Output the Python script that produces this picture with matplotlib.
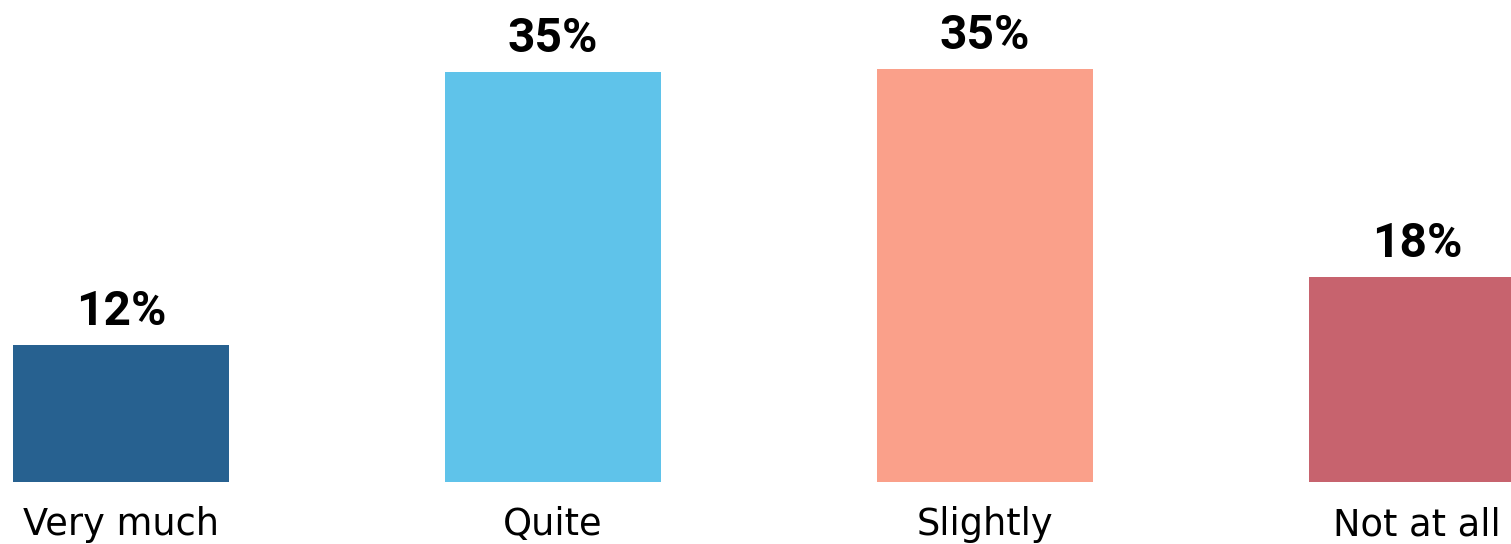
import matplotlib
matplotlib.use("Agg")
import matplotlib.pyplot as plt

categories = ["Very much", "Quite", "Slightly", "Not at all"]
values = [11.7, 35.0, 35.3, 17.5]
labels = ["12%", "35%", "35%", "18%"]
colors = ["#276190", "#5FC3EA", "#FAA08A", "#C7636E"]

fig = plt.figure(figsize=(15.11, 5.44), dpi=100)
# axes spans full width; baseline at 482 px from top
ax = fig.add_axes([0, 62 / 544, 1, 482 / 544])

x = list(range(len(categories)))
ax.bar(x, values, width=0.5, color=colors)

px_per_unit = 432
ax.set_xlim(-121 / px_per_unit, (1511 - 121) / px_per_unit)
ax.set_ylim(0, 482 / 11.71)

for xi, v, lab in zip(x, values, labels):
    ax.annotate(lab, (xi, v), xytext=(0, 14.4), textcoords="offset points",
                ha="center", va="baseline", fontsize=34.5, fontweight="bold",
                family="Roboto", color="black")

for xi, cat in zip(x, categories):
    ax.annotate(cat, (xi, 0), xycoords=("data", "axes fraction"),
                xytext=(0, -38.2), textcoords="offset points",
                ha="center", va="baseline", fontsize=26.5, family="DejaVu Sans",
                color="black")

ax.axis("off")
fig.savefig("out.png", dpi=100)
